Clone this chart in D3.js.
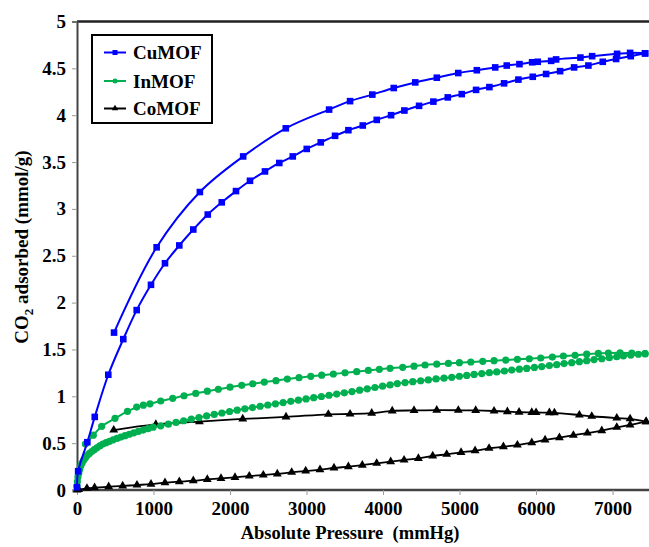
<!DOCTYPE html>
<html>
<head>
<meta charset="utf-8">
<script src="https://cdn.jsdelivr.net/npm/d3@7"></script>
<style>
  html, body { margin: 0; padding: 0; background: #fff; }
  svg text { font-family: "Liberation Serif", "DejaVu Serif", serif; font-weight: bold; fill: #000; }
</style>
</head>
<body>
<div id="chart"></div>
<script>
// CuMOF - adsorption (lower branch) and desorption (upper branch)
const cuAdsPressure = [0, 15, 135, 232, 409, 605, 780, 967, 1150, 1337, 1520, 1709, 1892, 2078, 2261, 2457, 2644, 2820, 3003, 3186, 3373, 3547, 3735, 3918, 4105, 4279, 4471, 4658, 4846, 5029, 5216, 5390, 5582, 5769, 5957, 6131, 6314, 6497, 6684, 6872, 7046, 7238, 7425];
const cuAdsValue = [0.03, 0.2, 0.51, 0.78, 1.23, 1.61, 1.92, 2.19, 2.42, 2.61, 2.78, 2.94, 3.07, 3.19, 3.30, 3.40, 3.49, 3.56, 3.64, 3.71, 3.78, 3.84, 3.89, 3.95, 4.0, 4.05, 4.10, 4.145, 4.19, 4.225, 4.27, 4.30, 4.34, 4.38, 4.41, 4.44, 4.47, 4.51, 4.53, 4.57, 4.60, 4.63, 4.66];
const cuDesPressure = [484, 1041, 1606, 2172, 2729, 3295, 3569, 3860, 4140, 4421, 4703, 4983, 5226, 5466, 5617, 5783, 5949, 6022, 6197, 6262, 6580, 6733, 7059, 7229, 7425];
const cuDesValue = [1.68, 2.59, 3.18, 3.56, 3.86, 4.06, 4.15, 4.22, 4.29, 4.35, 4.40, 4.45, 4.48, 4.51, 4.53, 4.545, 4.565, 4.57, 4.58, 4.595, 4.615, 4.63, 4.655, 4.665, 4.66];

// InMOF
const inAdsPressure = [0, 5, 12, 22, 35, 50, 68, 88, 110, 135, 162, 192, 225, 260, 298, 338, 380, 425, 472, 522, 574, 628, 684, 742, 802, 864, 928, 994,
  1094, 1194, 1294, 1394, 1494, 1594, 1694, 1794, 1894, 1994, 2094, 2194, 2294, 2394, 2494, 2594, 2694, 2794, 2894, 2994, 3094, 3194, 3294, 3394, 3494, 3594, 3694, 3794, 3894, 3994,
  4092, 4187, 4288, 4388, 4492, 4592, 4693, 4797, 4898, 4998, 5094, 5190, 5290, 5390, 5486, 5586, 5682, 5782, 5878, 5978, 6074, 6174, 6270, 6366, 6466, 6566, 6662, 6758, 6859, 6958, 7055, 7141, 7238, 7337, 7425];
const inAdsValue = [0.04, 0.09, 0.14, 0.18, 0.22, 0.26, 0.29, 0.32, 0.345, 0.37, 0.39, 0.41, 0.43, 0.45, 0.47, 0.49, 0.505, 0.52, 0.535, 0.55, 0.565, 0.58, 0.595, 0.61, 0.625, 0.64, 0.655, 0.67,
  0.685, 0.703, 0.721, 0.739, 0.757, 0.774, 0.791, 0.807, 0.822, 0.838, 0.852, 0.866, 0.88, 0.894, 0.907, 0.92, 0.933, 0.946, 0.959, 0.972, 0.985, 0.998, 1.011, 1.024, 1.037, 1.05, 1.065, 1.08, 1.094, 1.108,
  1.121, 1.136, 1.147, 1.156, 1.166, 1.175, 1.185, 1.193, 1.203, 1.214, 1.223, 1.233, 1.242, 1.252, 1.26, 1.27, 1.28, 1.29, 1.298, 1.308, 1.317, 1.328, 1.338, 1.349, 1.359, 1.37, 1.38, 1.392, 1.401, 1.412, 1.422, 1.43, 1.44, 1.449, 1.455];
const inDesPressure = [110, 213, 323, 497, 660, 780, 867, 954, 1094, 1251, 1399, 1552, 1703, 1847, 2000, 2153, 2297, 2448, 2601, 2749, 2902, 3055, 3198, 3351, 3503, 3656, 3808, 3952, 4092, 4257, 4405, 4549, 4702, 4854, 4998, 5147, 5303, 5451, 5604, 5756, 5912, 6061, 6213, 6357, 6510, 6662, 6814, 6945, 7098, 7251, 7425];
const inDesValue = [0.49, 0.585, 0.68, 0.765, 0.84, 0.885, 0.905, 0.92, 0.95, 0.978, 1.006, 1.031, 1.055, 1.075, 1.097, 1.117, 1.134, 1.152, 1.167, 1.184, 1.199, 1.213, 1.225, 1.238, 1.251, 1.263, 1.276, 1.288, 1.299, 1.309, 1.322, 1.334, 1.343, 1.351, 1.359, 1.366, 1.373, 1.38, 1.387, 1.395, 1.401, 1.409, 1.419, 1.43, 1.437, 1.45, 1.458, 1.462, 1.465, 1.46, 1.455];

// CoMOF
const coAdsPressure = [0, 22, 130, 230, 414, 597, 784, 967, 1150, 1337, 1520, 1703, 1882, 2065, 2252, 2435, 2618, 2806, 2989, 3176, 3359, 3547, 3729, 3917, 4100, 4275, 4462, 4649, 4832, 5020, 5203, 5386, 5573, 5756, 5944, 6118, 6305, 6488, 6671, 6859, 7055, 7229, 7438];
const coAdsValue = [0, 0.005, 0.018, 0.025, 0.035, 0.043, 0.053, 0.063, 0.078, 0.089, 0.099, 0.113, 0.124, 0.135, 0.149, 0.16, 0.171, 0.189, 0.203, 0.217, 0.235, 0.249, 0.265, 0.285, 0.302, 0.32, 0.338, 0.363, 0.381, 0.402, 0.419, 0.445, 0.462, 0.48, 0.505, 0.534, 0.558, 0.584, 0.608, 0.633, 0.669, 0.694, 0.73];
const coDesPressure = [480, 1030, 1600, 2166, 2732, 3285, 3569, 3852, 4120, 4405, 4702, 4984, 5211, 5451, 5625, 5778, 5944, 6000, 6174, 6240, 6566, 6728, 7055, 7229, 7438];
const coDesValue = [0.64, 0.70, 0.73, 0.758, 0.78, 0.808, 0.811, 0.82, 0.845, 0.849, 0.852, 0.851, 0.849, 0.843, 0.837, 0.83, 0.828, 0.827, 0.825, 0.824, 0.80, 0.787, 0.768, 0.76, 0.73];

const xTicks = [0, 1000, 2000, 3000, 4000, 5000, 6000, 7000];
const yTicks = [0, 0.5, 1, 1.5, 2, 2.5, 3, 3.5, 4, 4.5, 5];
const seriesNames = ["CuMOF", "InMOF", "CoMOF"];
const seriesColors = ["#0000ff", "#00b050", "#000000"];

const width = 649, height = 547;
const margin = {top: 21.5, right: 2, bottom: 57, left: 77};

const svg = d3.select("#chart").append("svg")
  .attr("width", width)
  .attr("height", height);

const x = d3.scaleLinear().domain([0, 7450]).range([margin.left, width - margin.right]);
const y = d3.scaleLinear().domain([0, 5]).range([height - margin.bottom, margin.top]);

// frame: top border, left + bottom axis lines
svg.append("line")
  .attr("x1", margin.left).attr("x2", width)
  .attr("y1", y(5)).attr("y2", y(5))
  .attr("stroke", "#222").attr("stroke-width", 2.5);

const xAxis = svg.append("g")
  .attr("transform", `translate(0,${y(0)})`)
  .call(d3.axisBottom(x).tickValues(xTicks).tickSize(5).tickPadding(7).tickFormat(d3.format("d")));
xAxis.select(".domain").attr("stroke", "#444").attr("stroke-width", 2.5)
  .attr("d", `M${margin.left},0H${width}`);
xAxis.selectAll(".tick line").attr("stroke", "#999").attr("stroke-width", 1);
xAxis.selectAll(".tick text").style("font-size", "19px");

const yAxis = svg.append("g")
  .attr("transform", `translate(${x(0)},0)`)
  .call(d3.axisLeft(y).tickValues(yTicks).tickSize(5).tickPadding(6).tickFormat(d => d));
yAxis.select(".domain").attr("stroke", "#444").attr("stroke-width", 2);
yAxis.selectAll(".tick line").attr("stroke", "#999").attr("stroke-width", 1);
yAxis.selectAll(".tick text").style("font-size", "19px");

// axis titles
svg.append("text")
  .attr("x", 350).attr("y", 539)
  .attr("text-anchor", "middle")
  .style("font-size", "18.5px")
  .style("white-space", "pre")
  .text("Absolute Pressure  (mmHg)");

const yTitle = svg.append("text")
  .attr("transform", "translate(28,247) rotate(-90)")
  .attr("text-anchor", "middle")
  .style("font-size", "19px");
yTitle.append("tspan").text("CO");
yTitle.append("tspan").attr("dy", 5).style("font-size", "13px").text("2");
yTitle.append("tspan").attr("dy", -5).text(" adsorbed (mmol/g)");

const plot = svg.append("g");

function zip(ps, vs) {
  return ps.map((p, i) => ({p: p, v: vs[i]}));
}

const line = d3.line()
  .x(d => x(d.p))
  .y(d => y(d.v))
  .curve(d3.curveCatmullRom.alpha(0.5));

function drawLine(data, color, widthPx) {
  plot.append("path")
    .datum(data)
    .attr("fill", "none")
    .attr("stroke", color)
    .attr("stroke-width", widthPx)
    .attr("d", line);
}

const triangle = d3.symbol().type(d3.symbolTriangle).size(34);

function drawMarkers(data, kind, color) {
  const g = plot.append("g").attr("fill", color);
  if (kind === "square") {
    g.selectAll("rect").data(data).enter().append("rect")
      .attr("x", d => x(d.p) - 3.3).attr("y", d => y(d.v) - 3.3)
      .attr("width", 6.6).attr("height", 6.6);
  } else if (kind === "circle") {
    g.selectAll("circle").data(data).enter().append("circle")
      .attr("cx", d => x(d.p)).attr("cy", d => y(d.v)).attr("r", 3.6);
  } else {
    g.selectAll("path").data(data).enter().append("path")
      .attr("transform", d => `translate(${x(d.p)},${y(d.v)})`)
      .attr("d", triangle);
  }
}

const coAds = zip(coAdsPressure, coAdsValue), coDes = zip(coDesPressure, coDesValue);
const inAds = zip(inAdsPressure, inAdsValue), inDes = zip(inDesPressure, inDesValue);
const cuAds = zip(cuAdsPressure, cuAdsValue), cuDes = zip(cuDesPressure, cuDesValue);

drawLine(coAds, seriesColors[2], 1.8);
drawLine(coDes, seriesColors[2], 1.8);
drawMarkers(coAds, "triangle", seriesColors[2]);
drawMarkers(coDes, "triangle", seriesColors[2]);

drawLine(inAds, seriesColors[1], 2);
drawLine(inDes, seriesColors[1], 2);
drawMarkers(inAds, "circle", seriesColors[1]);
drawMarkers(inDes, "circle", seriesColors[1]);

drawLine(cuAds, seriesColors[0], 2);
drawLine(cuDes, seriesColors[0], 2);
drawMarkers(cuAds, "square", seriesColors[0]);
drawMarkers(cuDes, "square", seriesColors[0]);

// legend
const legend = svg.append("g").attr("transform", "translate(92,35)");
legend.append("rect")
  .attr("width", 120).attr("height", 88)
  .attr("fill", "#fff").attr("stroke", "#000").attr("stroke-width", 2);

const legendY = [17.5, 46, 73.5];
seriesNames.forEach((name, i) => {
  const row = legend.append("g").attr("transform", `translate(0,${legendY[i]})`);
  row.append("line")
    .attr("x1", 12).attr("x2", 34)
    .attr("stroke", seriesColors[i]).attr("stroke-width", 2);
  if (i === 0) {
    row.append("rect").attr("x", 20.5).attr("y", -2.5).attr("width", 5).attr("height", 5).attr("fill", seriesColors[i]);
  } else if (i === 1) {
    row.append("circle").attr("cx", 23).attr("r", 2.5).attr("fill", seriesColors[i]);
  } else {
    row.append("path").attr("transform", "translate(23,0)")
      .attr("d", d3.symbol().type(d3.symbolTriangle).size(18)).attr("fill", seriesColors[i]);
  }
  row.append("text")
    .attr("x", 41).attr("dy", "0.35em")
    .style("font-size", "19px")
    .text(name);
});
</script>
</body>
</html>
